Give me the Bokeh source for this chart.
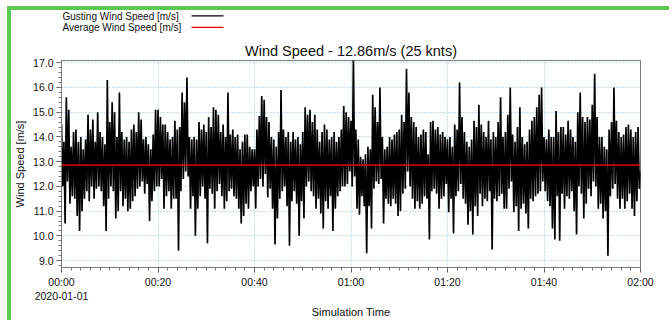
import numpy as np
import pandas as pd
from bokeh.plotting import figure
from bokeh.layouts import column
from bokeh.models import Range1d, FixedTicker, NumeralTickFormatter
from bokeh.core.properties import value
from bokeh.embed import file_html
from bokeh.resources import INLINE

# ---------------- data ----------------
start_time = "2020-01-01 00:00:00"
step_seconds = 15
average_speed = 12.86
chart_title = "Wind Speed - 12.86m/s (25 knts)"

gust_00_20 = [14.5, 12.0, 13.8, 10.5, 15.6, 12.2, 15.1, 11.3, 13.6, 11.6, 14.2, 11.5, 14.3, 10.8, 13.8, 10.2, 14.0, 11.0, 13.5, 11.5,
              13.9, 11.8, 14.9, 11.4, 14.3, 12.0, 14.7, 11.5, 13.8, 11.9, 15.0, 12.0, 14.2, 11.8, 14.0, 11.2, 13.7, 10.2, 16.3, 11.5,
              14.6, 12.0, 15.4, 11.8, 15.0, 10.7, 14.0, 11.0, 15.8, 11.8, 14.2, 11.2, 13.9, 11.5, 14.0, 11.0, 13.8, 11.1, 14.3, 11.4,
              14.5, 11.6, 14.2, 11.9, 15.0, 12.0, 14.7, 12.2, 13.9, 11.7, 14.0, 12.1, 13.7, 10.6, 13.5, 11.4, 14.1, 11.8, 15.1, 12.0]
gust_20_40 = [15.1, 12.0, 14.8, 12.3, 14.5, 11.1, 14.5, 11.6, 14.2, 11.8, 13.9, 11.1, 14.0, 11.5, 14.65, 11.5, 14.3, 9.4, 14.4, 11.8,
              15.8, 12.3, 15.4, 12.6, 16.4, 12.4, 14.0, 11.1, 13.9, 11.6, 14.0, 10.0, 13.9, 11.1, 14.6, 11.6, 14.3, 12.0, 14.5, 11.5,
              14.2, 9.7, 14.8, 11.9, 14.4, 11.7, 15.2, 11.1, 15.1, 11.8, 14.9, 12.1, 14.2, 11.6, 14.5, 11.1, 14.0, 11.4, 15.8, 11.8,
              14.1, 11.9, 14.3, 11.6, 14.0, 11.5, 14.1, 11.1, 13.5, 10.5, 13.8, 10.8, 14.1, 11.3, 14.1, 11.1, 13.6, 11.8, 13.5, 12.0]
gust_40_60 = [13.5, 11.1, 14.3, 12.0, 14.85, 12.3, 15.65, 12.0, 15.5, 12.5, 14.8, 11.55, 14.6, 11.9, 14.0, 11.1, 13.9, 9.65, 13.6, 10.7,
              14.2, 11.5, 15.9, 11.8, 14.3, 12.0, 14.0, 11.2, 14.2, 9.6, 13.8, 11.4, 14.2, 11.8, 13.9, 11.3, 14.0, 10.0, 13.7, 11.4,
              14.2, 10.7, 15.2, 12.0, 14.9, 12.2, 15.1, 11.8, 14.6, 11.6, 14.9, 11.1, 14.3, 11.5, 13.8, 10.9, 14.2, 10.3, 14.5, 11.4,
              14.3, 11.1, 13.9, 11.6, 14.0, 10.2, 14.2, 11.1, 13.8, 11.6, 14.0, 11.8, 14.3, 12.0, 15.25, 12.0, 15.0, 12.1, 14.8, 12.6]
gust_60_80 = [14.65, 12.0, 17.2, 12.4, 14.3, 11.1, 13.9, 10.85, 13.2, 11.6, 13.1, 11.2, 13.3, 9.3, 13.6, 11.2, 13.5, 10.3, 15.7, 11.9,
              15.2, 12.2, 14.6, 12.1, 16.0, 12.3, 14.0, 10.5, 13.5, 11.5, 13.6, 11.3, 14.0, 11.2, 13.9, 11.5, 14.1, 11.3, 14.2, 10.8,
              14.3, 11.0, 14.9, 11.7, 14.6, 11.9, 16.75, 12.6, 15.8, 12.0, 14.8, 11.5, 14.6, 11.1, 14.4, 11.4, 14.0, 11.1, 14.1, 11.3,
              14.3, 11.6, 14.2, 11.5, 13.3, 9.85, 14.6, 11.8, 14.65, 11.9, 14.3, 11.7, 14.4, 11.1, 14.1, 11.5, 14.2, 11.6, 14.0, 12.1]
gust_80_100 = [13.9, 10.95, 14.0, 11.5, 13.6, 10.1, 14.5, 11.6, 14.3, 11.8, 16.2, 12.1, 14.8, 11.5, 14.2, 11.3, 13.8, 10.45, 13.6, 11.0,
               13.9, 10.05, 14.65, 11.2, 14.4, 10.8, 15.3, 11.7, 14.5, 11.2, 14.2, 11.5, 14.0, 11.4, 14.65, 11.8, 13.9, 9.45, 14.2, 11.5,
               14.0, 11.4, 14.6, 11.6, 15.6, 11.7, 14.0, 11.1, 14.2, 11.1, 14.9, 11.9, 16.0, 12.2, 14.1, 10.95, 13.8, 11.2, 14.4, 10.2,
               15.2, 11.1, 14.0, 11.3, 13.7, 10.9, 13.8, 10.3, 14.3, 11.5, 14.65, 11.4, 14.8, 11.6, 15.2, 11.7, 15.7, 11.8, 16.0, 12.2]
gust_100_120 = [14.0, 11.8, 13.9, 11.4, 14.3, 11.2, 14.0, 10.3, 14.0, 9.85, 15.05, 11.6, 14.2, 9.8, 14.4, 11.7, 14.4, 11.1, 14.1, 11.6,
                14.65, 11.5, 14.3, 11.8, 14.0, 11.0, 13.8, 10.05, 15.0, 12.0, 15.8, 11.7, 14.8, 10.7, 14.6, 11.3, 14.8, 11.9, 14.7, 11.6,
                15.3, 12.2, 16.55, 12.0, 14.8, 11.1, 14.0, 11.3, 14.0, 10.7, 13.6, 11.0, 13.5, 9.2, 14.3, 11.6, 14.6, 11.9, 16.0, 12.1,
                14.65, 11.5, 14.2, 11.1, 14.0, 11.5, 14.1, 11.1, 14.4, 11.4, 14.5, 11.7, 14.3, 11.1, 14.0, 10.8, 14.2, 11.4, 14.4, 11.9, 12.6]

y_ticks = [9.0, 10.0, 11.0, 12.0, 13.0, 14.0, 15.0, 16.0, 17.0]
x_tick_minutes = [0, 20, 40, 60, 80, 100, 120]
x_tick_labels = ["00:00\n2020-01-01", "00:20", "00:40", "01:00", "01:20", "01:40", "02:00"]

legend_labels = ["Gusting Wind Speed  [m/s]", "Average Wind Speed [m/s]"]
legend_colors = ["black", "#e60000"]
y_label = "Wind Speed [m/s]"
x_label = "Simulation Time"

# ---------------- build ----------------
gust = gust_00_20 + gust_20_40 + gust_40_60 + gust_60_80 + gust_80_100 + gust_100_120
t0 = pd.Timestamp(start_time)
times = t0 + pd.to_timedelta(np.arange(len(gust)) * step_seconds, unit="s")
t_end = t0 + pd.Timedelta(minutes=x_tick_minutes[-1])

def to_ms(ts):
    return ts.value // 10**6

tick_ms = [to_ms(t0 + pd.Timedelta(minutes=m)) for m in x_tick_minutes]
minor_ms = [to_ms(t0 + pd.Timedelta(minutes=m)) for m in range(0, x_tick_minutes[-1] + 1, 2)]
y_minor = [round(8.8 + 0.2 * i, 1) for i in range(42)]

FONT = "Liberation Sans"
GREEN = "#5ec653"
W = 658
B_LEFT, B_RIGHT = 50, 29
FRAME_W = W - B_LEFT - B_RIGHT

# ----- legend strip (text on the left, line sample on the right) -----
LEG_H = 26
leg = figure(width=W, height=LEG_H, output_backend="svg", toolbar_location=None,
             x_range=Range1d(0, FRAME_W), y_range=Range1d(0, LEG_H),
             x_axis_location=None, y_axis_location=None,
             min_border_left=B_LEFT, min_border_right=B_RIGHT, min_border_top=0, min_border_bottom=0)
leg.grid.visible = False
leg.outline_line_color = None
leg_text_y = [19.8, 8.6]
leg_line_y = [20.7, 9.2]
leg.text(x=[1, 1], y=leg_text_y, text=legend_labels, text_font=value(FONT),
         text_font_size="10px", text_baseline="middle", text_align="left", text_color="#111111")
for yy, col in zip(leg_line_y, legend_colors):
    leg.line([130, 162], [yy, yy], line_color=col, line_width=1.2)

# ----- main chart -----
p = figure(width=W, height=284, x_axis_type="datetime",
           output_backend="svg", toolbar_location=None,
           x_range=Range1d(t0, t_end), y_range=Range1d(8.72, 17.09),
           min_border_left=B_LEFT, min_border_right=B_RIGHT, min_border_top=24, min_border_bottom=48,
           title=chart_title)

p.title.text_font = FONT
p.title.text_font_size = "14.5px"
p.title.text_font_style = "normal"
p.title.align = "center"
p.title.standoff = 3
p.title.text_color = "#111111"

p.outline_line_color = "#7a7a7a"
p.outline_line_width = 1

for g in (p.xgrid[0], p.ygrid[0]):
    g.grid_line_color = "#8cc0e2"
    g.grid_line_dash = "1 2"
    g.grid_line_width = 1

xa = p.xaxis[0]
xa.ticker = FixedTicker(ticks=tick_ms, minor_ticks=minor_ms)
xa.major_label_overrides = {tick_ms[i]: x_tick_labels[i] for i in range(len(tick_ms))}
xa.axis_label = x_label
xa.axis_label_standoff = 1
ya = p.yaxis[0]
ya.ticker = FixedTicker(ticks=y_ticks, minor_ticks=y_minor)
ya.formatter = NumeralTickFormatter(format="0.0")
ya.axis_label = y_label
ya.axis_label_standoff = 4

for ax in (xa, ya):
    ax.axis_label_text_font = FONT
    ax.axis_label_text_font_size = "11px"
    ax.axis_label_text_font_style = "normal"
    ax.axis_label_text_color = "#111111"
    ax.axis_line_color = "#7a7a7a"
    ax.major_tick_line_color = "#555555"
    ax.minor_tick_line_color = "#777777"
    ax.major_tick_out = 5
    ax.major_tick_in = 0
    ax.minor_tick_out = 3
    ax.minor_tick_in = 0
    ax.major_label_text_font = FONT
    ax.major_label_text_color = "#111111"
xa.major_label_text_font_size = "10.5px"
xa.major_label_standoff = 3
ya.major_label_text_font_size = "10.5px"
ya.major_label_standoff = 3

p.line(times, gust, line_color="black", line_width=1.7)
p.line([t0, t_end], [average_speed, average_speed], line_color="#e60000", line_width=1.5)

root = column(leg, p, spacing=0,
              styles={"margin-left": "7px", "margin-top": "6px",
                      "border-left": f"4px solid {GREEN}", "border-top": f"4px solid {GREEN}"})

open("out.html", "w").write(file_html(root, INLINE))
